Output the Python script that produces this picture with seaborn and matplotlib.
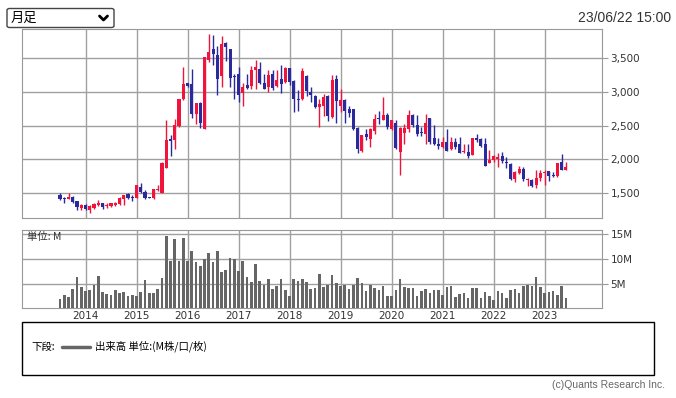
import numpy as np
import pandas as pd
import matplotlib
matplotlib.use("Agg")
import matplotlib.pyplot as plt
import seaborn as sns
from matplotlib.patches import FancyBboxPatch, Rectangle
from matplotlib.lines import Line2D

# ---------------- data (monthly, Jul 2013 - Jun 2023) ----------------
months = pd.period_range("2013-07", "2023-06", freq="M").astype(str).tolist()

opens = [1475, 1420, 1412, 1451, 1382, 1284, 1333, 1255, 1284, 1333,
         1353, 1314, 1314, 1324, 1343, 1417, 1490, 1446, 1426, 1588,
         1525, 1446, 1426, 1549, 1500, 1877, 2299, 2284, 2495, 2887,
         3128, 3118, 2672, 2833, 2456, 3461, 3623, 3534, 3225, 3716,
         3623, 3225, 3255, 2980, 3093, 3078, 3314, 3338, 3132, 3069,
         3255, 3088, 3191, 3137, 3348, 3152, 2892, 2892, 3226, 2995,
         2936, 2775, 2784, 2931, 2627, 3191, 2794, 2882, 2750, 2750,
         2466, 2127, 2382, 2299, 2422, 2618, 2578, 2652, 2451, 2544,
         2113, 2397, 2456, 2652, 2505, 2407, 2373, 2618, 2314, 2235,
         2186, 2250, 2152, 2250, 2225, 2103, 2108, 2069, 2314, 2304,
         2235, 1941, 1995, 2000, 2049, 1966, 1931, 1711, 1804, 1853,
         1696, 1696, 1623, 1721, 1794, 1828, 1774, 1755, 1966, 1843]
highs = [1500, 1451, 1500, 1466, 1382, 1343, 1343, 1324, 1353, 1402,
         1353, 1353, 1363, 1373, 1451, 1475, 1500, 1471, 1623, 1647,
         1549, 1451, 1564, 1618, 1956, 2578, 2358, 2603, 2897, 3363,
         3128, 3338, 2833, 2848, 3510, 3843, 3828, 3672, 3814, 3735,
         3623, 3265, 3363, 3132, 3265, 3373, 3461, 3436, 3265, 3314,
         3314, 3314, 3387, 3363, 3348, 3167, 3020, 3348, 3240, 3069,
         2946, 2897, 2970, 2946, 3240, 3240, 3034, 2897, 2784, 2750,
         2480, 2358, 2456, 2471, 2676, 2716, 2922, 2686, 2578, 2578,
         2480, 2529, 2725, 2676, 2652, 2480, 2676, 2618, 2505, 2309,
         2324, 2446, 2324, 2309, 2324, 2235, 2235, 2314, 2382, 2314,
         2309, 2137, 2064, 2088, 2103, 2029, 1951, 1833, 1902, 1882,
         1730, 1706, 1843, 1843, 1843, 1833, 1819, 1951, 2078, 1966]
lows = [1402, 1353, 1412, 1353, 1255, 1255, 1255, 1206, 1265, 1314,
        1275, 1284, 1304, 1314, 1324, 1333, 1422, 1382, 1426, 1500,
        1412, 1426, 1412, 1529, 1500, 1867, 2049, 2147, 2480, 2873,
        3069, 2618, 2530, 2466, 2446, 3436, 3392, 2956, 3069, 3451,
        3069, 2897, 2848, 2784, 3044, 3044, 3044, 3108, 3034, 2995,
        3020, 3069, 2980, 3127, 3093, 2701, 2716, 2873, 2931, 2848,
        2765, 2480, 2637, 2569, 2618, 2539, 2701, 2539, 2627, 2441,
        2098, 2113, 2294, 2186, 2373, 2520, 2578, 2456, 2431, 2147,
        1770, 2235, 2407, 2480, 2343, 2343, 2226, 2235, 2211, 2152,
        2162, 2127, 2137, 2147, 2088, 2088, 2015, 2064, 2260, 2186,
        1902, 1941, 1966, 1892, 1951, 1868, 1696, 1672, 1784, 1686,
        1608, 1598, 1583, 1686, 1623, 1686, 1745, 1745, 1843, 1843]
closes = [1412, 1415, 1451, 1377, 1294, 1324, 1265, 1314, 1343, 1363,
          1304, 1333, 1353, 1363, 1431, 1475, 1426, 1436, 1623, 1525,
          1436, 1431, 1564, 1569, 1941, 2294, 2279, 2515, 2897, 3118,
          3088, 2677, 2833, 2539, 3510, 3583, 3549, 3181, 3696, 3657,
          3201, 3211, 2956, 3064, 3059, 3324, 3358, 3127, 3034, 3245,
          3059, 3176, 3118, 3348, 3137, 2887, 2882, 3299, 3010, 2956,
          2775, 2814, 2922, 2637, 3167, 2863, 2873, 2716, 2686, 2451,
          2147, 2358, 2324, 2446, 2603, 2598, 2652, 2480, 2578, 2162,
          2466, 2466, 2652, 2505, 2373, 2392, 2544, 2260, 2226, 2196,
          2250, 2127, 2250, 2186, 2098, 2123, 2049, 2314, 2289, 2201,
          1902, 1990, 2044, 2039, 1980, 1951, 1711, 1819, 1853, 1711,
          1716, 1608, 1730, 1804, 1819, 1760, 1760, 1941, 1843, 1892]
volumes = [1.87, 2.67, 2.27, 3.87, 6.27, 4.27, 3.47, 3.67, 4.67, 6.47,
           3.27, 2.87, 2.67, 3.67, 3.07, 3.27, 2.47, 2.67, 2.47, 3.27,
           5.67, 3.07, 3.07, 3.87, 6.07, 14.67, 9.47, 14.07, 9.47, 14.27,
           9.47, 11.47, 9.27, 8.47, 9.87, 11.07, 9.27, 11.47, 7.27, 7.67,
           10.07, 9.87, 7.47, 9.47, 6.27, 5.27, 8.87, 5.47, 4.67, 5.87,
           3.87, 4.47, 5.87, 3.67, 2.47, 5.87, 5.47, 5.87, 5.27, 3.87,
           4.07, 7.0, 4.27, 4.67, 6.67, 5.2, 4.53, 4.67, 3.87, 4.8,
           6.13, 5.07, 3.47, 4.8, 4.0, 3.67, 4.47, 2.53, 2.47, 3.67,
           5.87, 4.27, 4.0, 4.13, 2.53, 3.47, 3.87, 3.07, 3.67, 3.67,
           2.67, 4.27, 4.47, 2.27, 2.87, 3.07, 2.07, 4.13, 4.13, 2.07,
           3.27, 2.47, 1.67, 3.47, 3.07, 2.07, 3.67, 3.87, 3.07, 4.47,
           4.67, 4.47, 6.27, 4.27, 3.07, 3.27, 3.47, 2.67, 4.47, 2.07]

year_labels = ["2014", "2015", "2016", "2017", "2018",
               "2019", "2020", "2021", "2022", "2023"]
year_months = ["2014-01", "2015-01", "2016-01", "2017-01", "2018-01",
               "2019-01", "2020-01", "2021-01", "2022-01", "2023-01"]
price_ticks = [1500, 2000, 2500, 3000, 3500]
vol_ticks = [5, 10, 15]
vol_tick_labels = ["5M", "10M", "15M"]

# ---------------- styling ----------------
RED = "#f0143c"
BLUE = "#2a2a9c"
VOLC = "#666666"
GRID = "#a0a0a0"
TXT = "#333333"

sns.set_style("white")
plt.rcParams["font.family"] = ["DejaVu Sans", "Noto Sans CJK JP"]
CJK = ["Noto Sans CJK JP", "DejaVu Sans"]

W, H = 676, 398
fig = plt.figure(figsize=(W / 100, H / 100), dpi=100)


def rect(l, t, r, b):
    return [l / W, 1 - b / H, (r - l) / W, (b - t) / H]


def fx(px):
    return px / W


def fy(py):
    return 1 - py / H


axp = fig.add_axes(rect(22, 28.5, 602, 218.3))
axv = fig.add_axes(rect(22, 229.5, 602, 308.3))

df = pd.DataFrame({"month": months, "open": opens, "high": highs,
                   "low": lows, "close": closes, "volume": volumes})
df["x"] = np.arange(len(df))
df["up"] = df["close"] >= df["open"]
cols = np.where(df["up"], RED, BLUE)

# candles
axp.vlines(df["x"], df["low"], df["high"], colors=cols, lw=1.0, zorder=3)
body_bot = np.minimum(df["open"], df["close"])
body_h = np.maximum((df["close"] - df["open"]).abs(), 14)
axp.bar(df["x"], body_h, bottom=body_bot, width=0.72, color=cols,
        linewidth=0, zorder=4)

# volume
sns.barplot(data=df, x="x", y="volume", native_scale=True, color=VOLC,
            saturation=1, width=0.62, errorbar=None, linewidth=0,
            ax=axv, zorder=3)

year_pos = [months.index(m) for m in year_months]
xlim = (-8.94, 127.5)

for ax in (axp, axv):
    ax.set_xlim(*xlim)
    ax.set_xticks(year_pos)
    ax.set_axisbelow(True)
    ax.grid(True, color=GRID, lw=1.0)
    for s in ax.spines.values():
        s.set_color("#999999")
        s.set_linewidth(0.8)
    ax.set_xlabel("")
    ax.set_ylabel("")
    ax.yaxis.tick_right()
    ax.tick_params(axis="y", which="both", right=True, left=False,
                   labelright=True, labelleft=False, length=4,
                   color="#999999", pad=2, labelsize=7.5, labelcolor=TXT)
    ax.tick_params(axis="x", length=0)

axp.set_ylim(1132, 3931)
axp.set_yticks(price_ticks)
axp.set_yticklabels([f"{v:,}" for v in price_ticks])
axp.tick_params(axis="x", labelbottom=False)

axv.set_ylim(0, 15.9)
axv.set_yticks(vol_ticks)
axv.set_yticklabels(vol_tick_labels)
axv.set_xticklabels(year_labels)
axv.tick_params(axis="x", labelbottom=True, pad=2, labelsize=7.5,
                labelcolor=TXT)

fig.text(fx(27), fy(237), "単位: M", fontsize=7.5, va="center", ha="left",
         family=CJK, color=TXT)

# dropdown
fig.add_artist(FancyBboxPatch((fx(7), fy(27.5)), fx(107), (19) / H,
                              boxstyle="round,pad=0,rounding_size=0.004",
                              transform=fig.transFigure, facecolor="white",
                              edgecolor="#444444", lw=1))
fig.text(fx(11), fy(18.5), "月足", fontsize=9.5, va="center", ha="left",
         family=CJK, color="black")
fig.add_artist(Line2D([fx(99.5), fx(103.5), fx(107.5)],
                      [fy(16), fy(20), fy(16)], transform=fig.transFigure,
                      color="black", lw=2))

fig.text(fx(671), fy(17.5), "23/06/22 15:00", fontsize=10, va="center",
         ha="right", family="Liberation Sans", color=TXT)

# legend box
fig.add_artist(Rectangle((fx(22), fy(375)), fx(632), 53 / H,
                         transform=fig.transFigure, facecolor="none",
                         edgecolor="black", lw=1))
fig.text(fx(31), fy(346.5), "下段:", fontsize=7.5, va="center", ha="left",
         family=CJK, color="black")
fig.add_artist(Line2D([fx(62), fx(90)], [fy(346.5), fy(346.5)],
                      transform=fig.transFigure, color=VOLC, lw=2.5))
fig.text(fx(95), fy(346.5), "出来高 単位:(M株/口/枚)", fontsize=7.5,
         va="center", ha="left", family=CJK, color="black")

fig.text(fx(665), fy(385), "(c)Quants Research Inc.", fontsize=7.5,
         va="center", ha="right", family="Liberation Sans", color="#666666")

fig.savefig("out.png", dpi=100)
